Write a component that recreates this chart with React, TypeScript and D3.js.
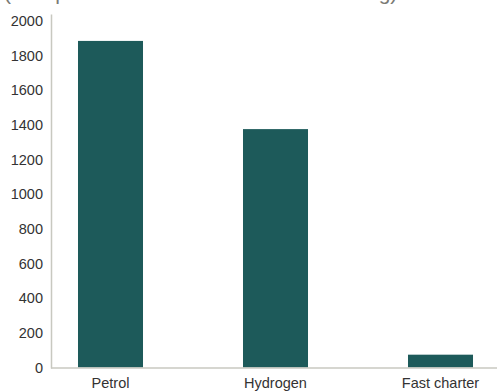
import React from "react";
import * as d3 from "d3";

const categories = ["Petrol", "Hydrogen", "Fast charter"];
const values = [1885, 1376, 74];
const yTicks = [0, 200, 400, 600, 800, 1000, 1200, 1400, 1600, 1800, 2000];
const title = "(Comparison of time needed for refuelling)";

export default function App() {
  const W = 497, H = 391;
  const x = d3.scaleBand<string>().domain(categories).range([28, 523]).paddingInner(0.606).paddingOuter(0.303);
  const y = d3.scaleLinear().domain([0, 2000]).range([367.5, 21]);
  const font = "'Liberation Sans', Arial, sans-serif";
  return (
    <svg width={W} height={H} style={{ position: "fixed", left: 0, top: 0, background: "#fff" }}>
      <text x={4} y={0} fontFamily={font} fontSize={21} fill="#7a7a74">{title}</text>
      {categories.map((c, i) => (
        <rect key={c} x={x(c)} y={y(values[i])} width={x.bandwidth()} height={y(0) - y(values[i])} fill="#1d5a5a" />
      ))}
      <line x1={51.5} x2={51.5} y1={14.5} y2={368.5} stroke="#c8c8c0" strokeWidth={1.5} />
      <line x1={51} x2={W} y1={368} y2={368} stroke="#c8c8c0" strokeWidth={1.5} />
      {yTicks.map((t) => (
        <text key={t} x={43} y={y(t)} dy="0.35em" textAnchor="end" fontFamily={font} fontSize={14.5} fill="#333">{t}</text>
      ))}
      {categories.map((c) => (
        <text key={c} x={(x(c) as number) + x.bandwidth() / 2} y={388} textAnchor="middle" fontFamily={font} fontSize={14.5} fill="#333">{c}</text>
      ))}
    </svg>
  );
}
